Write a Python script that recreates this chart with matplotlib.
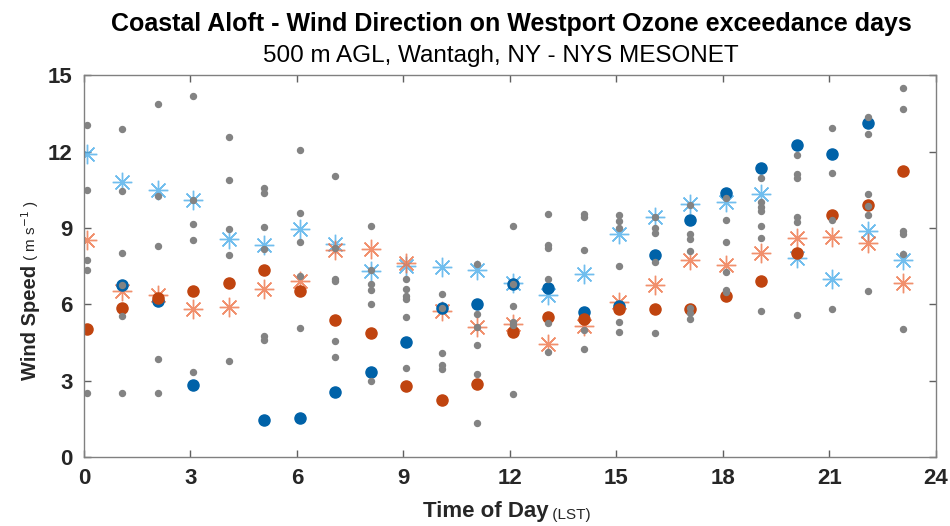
import numpy as np
import matplotlib
matplotlib.use("Agg")
from matplotlib import pyplot as plt

# hours of day (points plotted at hh:05)
hours = list(range(24))
nan = np.nan

# individual exceedance days (gray)
gray = [
    [13.04, 10.5, 7.76, 7.36, 2.52],
    [12.87, 10.45, 8.0, 6.77, 5.54, 2.52],
    [13.86, 10.24, 8.29, 3.86, 2.52],
    [14.19, 10.09, 9.17, 8.52, 3.34],
    [12.58, 10.87, 8.97, 7.95, 3.76],
    [10.57, 10.38, 9.04, 8.19, 4.77, 4.61],
    [12.08, 9.59, 8.45, 7.11, 5.08],
    [11.03, 8.21, 7.01, 6.92, 4.55, 3.93],
    [9.07, 7.36, 6.8, 6.55, 6.03, 2.97],
    [7.01, 6.62, 6.33, 6.22, 5.5, 3.5],
    [6.39, 5.87, 4.09, 3.6, 3.47],
    [7.57, 5.61, 5.11, 4.42, 3.28, 1.35],
    [9.08, 6.8, 5.92, 5.31, 5.17, 2.46],
    [9.56, 8.32, 8.21, 7.01, 5.27, 4.13],
    [9.56, 9.43, 8.15, 4.98, 4.24],
    [9.52, 9.28, 9.0, 7.49, 5.29, 4.91],
    [9.43, 9.0, 8.82, 7.66, 4.87],
    [9.89, 8.75, 8.55, 8.1, 5.87, 5.66, 5.44],
    [10.19, 9.33, 8.45, 7.27, 6.58, 6.49],
    [10.95, 10.02, 9.83, 9.67, 9.08, 8.61, 5.74],
    [11.88, 11.11, 10.97, 9.43, 9.24, 5.57],
    [12.92, 11.16, 9.33, 5.83],
    [13.34, 12.68, 10.35, 9.88, 9.5, 6.52],
    [14.5, 13.66, 8.87, 8.78, 7.99, 5.04],
]

blue_dot = [nan, 6.77, 6.13, 2.82, nan, 1.44, 1.55, 2.55, 3.34, 4.52, 5.87, 6.0,
            6.81, 6.64, 5.7, 5.92, 7.95, 9.33, 10.39, 11.37, 12.26, 11.9, 13.13, nan]
orange_dot = [5.03, 5.86, 6.25, 6.52, 6.85, 7.34, 6.51, 5.4, 4.89, 2.78, 2.23, 2.86,
              4.91, 5.5, 5.44, 5.82, 5.83, 5.83, 6.34, 6.9, 8.02, 9.49, 9.89, 11.23]
blue_star = [11.92, 10.81, 10.5, 10.09, 8.55, 8.32, 8.97, 8.38, 7.31, 7.49, 7.47, 7.36,
             6.84, 6.35, 7.21, 8.78, 9.43, 9.93, 10.02, 10.32, 7.83, 6.98, 8.88, 7.73]
orange_star = [8.52, 6.52, 6.38, 5.83, 5.9, 6.62, 6.92, 8.15, 8.19, 7.62, 5.74, 5.11,
               5.24, 4.43, 5.16, 6.09, 6.75, 7.73, 7.53, 8.02, 8.62, 8.65, 8.41, 6.84]

plt.rcParams['font.family'] = ['Liberation Sans', 'DejaVu Sans']

x = np.array(hours) + 0.08

fig = plt.figure(figsize=(9.5, 5.26), dpi=100)
ax = fig.add_axes([0.0884, 0.131, 0.8966, 0.726])

asterisk = (8, 2, 0)
ax.plot(x, blue_star, ls='none', marker=asterisk, ms=14, mew=1.0,
        color='#4DAEEA', alpha=0.8)
ax.plot(x, orange_star, ls='none', marker=asterisk, ms=14, mew=1.0,
        color='#EE7448', alpha=0.8)
ax.plot(x, blue_dot, ls='none', marker='o', ms=8, color='#0062A8')
ax.plot(x, orange_dot, ls='none', marker='o', ms=8, color='#C0440F')

gx = [xi for xi, g in zip(x, gray) for _ in g]
gy = [v for g in gray for v in g]
ax.plot(gx, gy, ls='none', marker='o', ms=4.3, color='#838383')

ax.set_xlim(0, 24)
ax.set_ylim(0, 15)
ax.set_xticks(range(0, 25, 3))
ax.set_yticks(range(0, 16, 3))
ax.tick_params(direction='in', top=True, right=True, length=5, width=1,
               color='#606060', labelsize=16, pad=8)
for lab in ax.get_xticklabels() + ax.get_yticklabels():
    lab.set_fontweight('bold')
    lab.set_color('#262626')
for s in ax.spines.values():
    s.set_color('#808080')
    s.set_linewidth(1)

fig.text(0.538, 0.955, 'Coastal Aloft - Wind Direction on Westport Ozone exceedance days',
         ha='center', va='center', fontsize=18, fontweight='bold')
fig.text(0.527, 0.893, '500 m AGL, Wantagh, NY - NYS MESONET',
         ha='center', va='center', fontsize=17.5)

# x label
xl = fig.text(0.511, 0.008, 'Time of Day', ha='center', va='bottom',
              fontsize=16, fontweight='bold', color='#262626')
ax.annotate(' (LST)', xy=(1, 0), xycoords=xl, ha='left', va='bottom',
            fontsize=11, color='#262626')

# y label
yl = fig.text(0.032, 0.278, 'Wind Speed', ha='center', va='bottom', rotation=90,
              fontsize=14.5, fontweight='bold', color='#262626')
ax.annotate(r' ( m s$^{-1}$ )', xy=(0.5, 1), xycoords=yl, ha='center', va='bottom',
            rotation=90, fontsize=11, color='#262626')

plt.savefig('out.png', dpi=100)
